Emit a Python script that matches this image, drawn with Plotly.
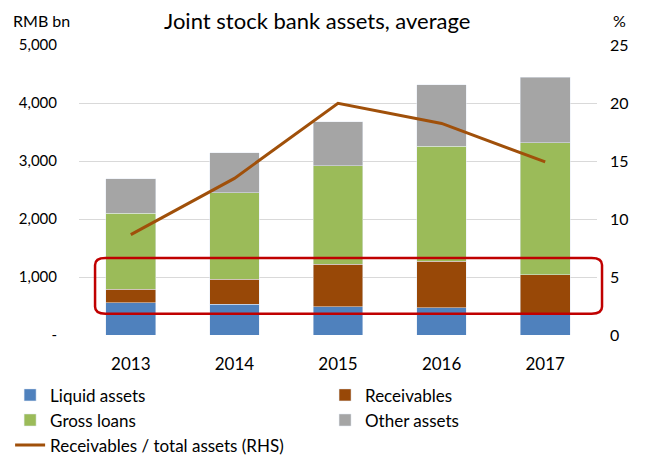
import plotly.graph_objects as go

years = ["2013", "2014", "2015", "2016", "2017"]
liquid = [560, 530, 490, 473, 353]
receivables = [228, 430, 729, 797, 688]
gross_loans = [1315, 1493, 1698, 1986, 2277]
other_assets = [591, 688, 763, 1061, 1126]
ratio = [8.65, 13.5, 19.97, 18.24, 14.92]

left_ticks = [0, 1000, 2000, 3000, 4000, 5000]
left_text = ["-", "1,000", "2,000", "3,000", "4,000", "5,000"]
right_ticks = [0, 5, 10, 15, 20, 25]

FONT = "Lato, Open Sans, sans-serif"

fig = go.Figure()
fig.add_bar(x=years, y=liquid, name="Liquid assets", marker_color="#4F81BD", legend="legend")
fig.add_bar(x=years, y=receivables, name="Receivables", marker_color="#984807", legend="legend2")
fig.add_bar(x=years, y=gross_loans, name="Gross loans", marker_color="#9BBB59", legend="legend")
fig.add_bar(x=years, y=other_assets, name="Other assets", marker_color="#A5A5A5", legend="legend2")
fig.add_scatter(x=years, y=ratio, name="Receivables / total assets (RHS)", mode="lines",
                line=dict(color="#A0500A", width=3), yaxis="y2", legend="legend")

leg_common = dict(orientation="v", yanchor="top", y=-0.146, xanchor="left",
                  traceorder="normal", font=dict(size=17), tracegroupgap=0, itemwidth=30,
                  bgcolor="rgba(0,0,0,0)")

fig.update_layout(
    width=637, height=449,
    margin=dict(l=71, r=48, t=37, b=122, autoexpand=False),
    barmode="stack", bargap=0.52,
    plot_bgcolor="white", paper_bgcolor="white",
    font=dict(family=FONT, size=15, color="#000"),
    showlegend=True,
    legend=dict(x=-0.133, **leg_common),
    legend2=dict(x=0.475, **leg_common),
    xaxis=dict(showgrid=False, showline=False, ticks="", tickfont=dict(size=17),
               ticklabelstandoff=17),
    yaxis=dict(range=[0, 5000], tickvals=left_ticks, ticktext=left_text,
               gridcolor="#D9D9D9", gridwidth=1, zeroline=False, showline=False,
               ticklabelstandoff=21),
    yaxis2=dict(range=[0, 25], tickvals=right_ticks, overlaying="y", side="right",
                showgrid=False, zeroline=False, showline=False, ticklabelstandoff=12,
                tickfont=dict(size=16)),
    annotations=[
        dict(text="Joint stock bank assets, average", x=0.5, xref="paper", y=1, yref="paper",
             xshift=-21, yanchor="middle", yshift=25, showarrow=False, font=dict(size=22)),
        dict(text="RMB bn", x=0, xref="paper", xanchor="right", xshift=-7, y=1, yref="paper",
             yanchor="middle", yshift=25, showarrow=False, font=dict(size=16)),
        dict(text="%", x=1, xref="paper", xanchor="left", xshift=14, y=1, yref="paper",
             yanchor="middle", yshift=25, showarrow=False, font=dict(size=16)),
    ],
)

# red rounded highlight box
x0, x1 = 0.031, 1.0097
y0, y1 = 365, 1329
r = 0.02
ry = 120
path = (f"M {x0 + r},{y0} L {x1 - r},{y0} Q {x1},{y0} {x1},{y0 + ry} "
        f"L {x1},{y1 - ry} Q {x1},{y1} {x1 - r},{y1} L {x0 + r},{y1} "
        f"Q {x0},{y1} {x0},{y1 - ry} L {x0},{y0 + ry} Q {x0},{y0} {x0 + r},{y0} Z")
fig.add_shape(type="path", path=path, xref="paper", yref="y",
              line=dict(color="#C00000", width=2.5), fillcolor="rgba(0,0,0,0)")

fig.write_html("out.html")
